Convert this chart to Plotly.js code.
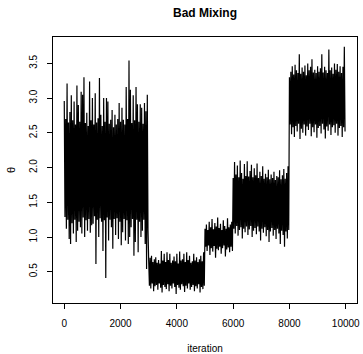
<!DOCTYPE html>
<html>
<head>
<meta charset="utf-8">
<script src="https://cdn.plot.ly/plotly-3.0.1.min.js"></script>
<style>html,body{margin:0;padding:0;background:#fff}#chart{width:363px;height:354px}</style>
</head>
<body>
<div id="chart"></div>
<script>
// Segment start iterations and sampling step (iterations between read values)
var segStarts = [0, 3000, 5000, 6000, 8000];
var step = 50;

// Upper / lower envelope values, per segment
var upper1 = [2.96,2.70,3.21,2.65,2.80,3.04,2.68,2.95,2.62,3.18,2.90,2.66,3.09,3.05,3.30,2.64,2.79,2.60,3.24,2.68,
              3.00,2.62,3.07,2.65,2.71,3.29,2.76,2.60,3.00,2.66,3.00,2.95,2.63,2.69,2.83,2.58,2.76,2.62,2.70,2.93,
              2.66,2.86,2.69,2.62,3.16,2.70,3.54,3.12,2.64,3.04,2.68,3.16,2.91,2.66,2.91,2.86,2.63,2.93,2.81,3.05];
var lower1 = [1.29,1.12,1.25,0.97,0.90,1.20,1.05,1.25,0.93,1.09,1.22,1.14,1.05,1.28,1.00,1.24,1.09,1.26,1.06,1.17,
              1.19,1.30,0.61,1.25,1.00,1.27,1.22,0.80,1.24,0.41,1.28,0.95,1.25,1.14,0.83,1.26,1.03,1.27,0.97,1.22,
              0.88,1.07,1.26,0.95,1.24,0.90,1.00,1.14,1.26,0.73,0.93,1.25,0.78,1.22,1.00,1.09,1.25,0.90,0.54,1.10];
var upper2 = [0.66,0.70,0.73,0.64,0.68,0.71,0.63,0.67,0.62,0.80,0.66,0.76,0.64,0.78,0.67,0.76,0.63,0.66,0.72,0.65,
              0.76,0.62,0.79,0.66,0.68,0.76,0.64,0.78,0.67,0.73,0.63,0.65,0.76,0.66,0.71,0.64,0.68,0.73,0.65,0.78];
var lower2 = [0.30,0.26,0.33,0.22,0.29,0.31,0.24,0.33,0.27,0.20,0.31,0.28,0.25,0.32,0.22,0.30,0.26,0.33,0.28,0.18,
              0.31,0.27,0.24,0.32,0.29,0.21,0.30,0.26,0.33,0.24,0.28,0.31,0.22,0.29,0.26,0.32,0.20,0.28,0.25,0.30];
var upper3 = [1.12,1.18,1.10,1.22,1.14,1.26,1.11,1.20,1.15,1.28,1.13,1.19,1.10,1.24,1.16,1.12,1.27,1.14,1.18,1.22];
var lower3 = [0.86,0.80,0.88,0.74,0.84,0.79,0.87,0.70,0.83,0.81,0.86,0.76,0.84,0.88,0.72,0.82,0.85,0.78,0.86,0.80];
var upper4 = [1.85,2.08,1.90,2.03,1.86,2.10,1.92,1.84,2.05,1.88,2.09,1.87,1.95,2.04,1.86,1.99,1.89,2.06,1.85,1.94,
              1.88,2.02,1.84,1.91,1.86,1.97,1.83,1.90,1.85,1.94,1.82,1.88,1.86,1.96,1.83,1.89,1.98,1.84,1.92,2.02];
var lower4 = [1.12,1.05,1.16,1.02,1.10,1.14,0.98,1.12,1.07,1.15,1.03,1.11,1.16,1.00,1.09,1.13,1.04,1.15,1.08,0.95,
              1.12,1.06,1.14,1.01,1.10,0.93,1.08,1.13,1.02,1.10,0.97,1.12,1.05,0.90,1.09,1.03,0.86,1.08,0.98,1.10];
var upper5 = [3.30,3.38,3.46,3.34,3.48,3.40,3.36,3.63,3.35,3.44,3.38,3.47,3.33,3.50,3.40,3.45,3.56,3.37,3.41,3.36,
              3.46,3.38,3.43,3.63,3.37,3.45,3.40,3.36,3.70,3.40,3.44,3.35,3.50,3.41,3.49,3.38,3.46,3.36,3.45,3.74];
var lower5 = [2.62,2.48,2.58,2.44,2.60,2.52,2.63,2.41,2.56,2.50,2.62,2.46,2.59,2.54,2.63,2.45,2.58,2.51,2.62,2.43,
              2.57,2.60,2.49,2.63,2.55,2.42,2.59,2.53,2.62,2.47,2.58,2.61,2.50,2.63,2.46,2.57,2.60,2.44,2.58,2.52];

var xTicks = [0, 2000, 4000, 6000, 8000, 10000];
var yTicks = [0.5, 1.0, 1.5, 2.0, 2.5, 3.0, 3.5];
var yTickText = ['0.5','1.0','1.5','2.0','2.5','3.0','3.5'];

var uppers = [upper1, upper2, upper3, upper4, upper5];
var lowers = [lower1, lower2, lower3, lower4, lower5];
var iter = [], theta = [];
for (var s = 0; s < segStarts.length; s++) {
  for (var i = 0; i < uppers[s].length; i++) {
    iter.push(segStarts[s] + i * step); theta.push(uppers[s][i]);
    iter.push(segStarts[s] + i * step + step / 2); theta.push(lowers[s][i]);
  }
}

var font = 'Liberation Sans, Arial, Helvetica, sans-serif';
var trace = {x: iter, y: theta, type: 'scatter', mode: 'lines',
  line: {color: '#000', width: 1.2, simplify: false}, hoverinfo: 'skip'};

var layout = {
  width: 363, height: 354,
  margin: {l: 53, r: 6, t: 37, b: 51},
  paper_bgcolor: '#fff', plot_bgcolor: '#fff',
  showlegend: false,
  font: {family: font, color: '#000', size: 10},
  title: {text: '<b>Bad Mixing</b>', font: {family: font, size: 12, color: '#000'},
    xref: 'paper', x: 0.5, xanchor: 'center', yref: 'container', y: 0.965, yanchor: 'middle'},
  xaxis: {range: [-400, 10400], showgrid: false, zeroline: false,
    showline: true, mirror: true, linecolor: '#000', linewidth: 1,
    ticks: 'outside', ticklen: 5, tickwidth: 1, tickcolor: '#000',
    tickvals: xTicks, ticktext: xTicks.map(String), ticklabelstandoff: 6,
    tickfont: {size: 10, family: font, color: '#000'},
    title: {text: 'iteration', font: {size: 10, family: font, color: '#000'}, standoff: 16}},
  yaxis: {range: [0.05, 3.88], showgrid: false, zeroline: false,
    showline: true, mirror: true, linecolor: '#000', linewidth: 1,
    ticks: 'outside', ticklen: 5, tickwidth: 1, tickcolor: '#000',
    tickvals: yTicks, ticktext: yTickText, tickangle: -90, ticklabelstandoff: 6,
    tickfont: {size: 10, family: font, color: '#000'},
    title: {text: 'θ', font: {size: 11, family: font, color: '#000'}, standoff: 10}}
};

Plotly.newPlot('chart', [trace], layout, {staticPlot: true, displayModeBar: false});
</script>
</body>
</html>
